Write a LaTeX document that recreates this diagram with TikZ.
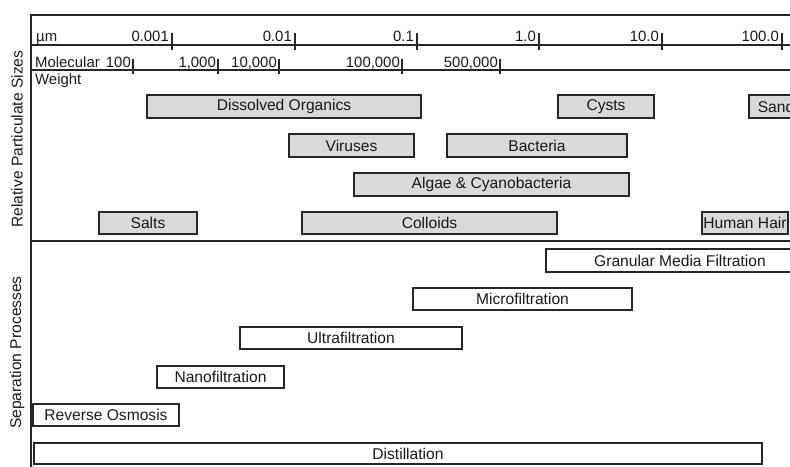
\documentclass[tikz,border=0pt]{standalone}
\usepackage{fontspec}
\setmainfont{Liberation Sans}
\begin{document}
\begin{tikzpicture}[x=1pt,y=-1pt,
  frame/.style={line width=2.1pt,black!85},
  tick/.style={line width=1.8pt,black!85},
  lbl/.style={font=\fontsize{15.6}{18}\selectfont,inner sep=0pt,text=black!90},
  axl/.style={lbl,font=\fontsize{14.9}{18}\selectfont},
  pbox/.style={draw=black!85,line width=2.2pt,fill=black!15,inner sep=0pt,minimum height=22pt,font=\fontsize{15.6}{18}\selectfont,text=black!90},
  sbox/.style={pbox,fill=white}]
\clip (0,0) rectangle (790,466);
\fill[white] (0,0) rectangle (790,466);
% frame
\draw[frame] (790,15) -- (31,15) -- (31,470);
\draw[frame] (31,45) -- (790,45);
\draw[frame] (31,70) -- (790,70);
\draw[frame] (31,241) -- (790,241);
% micrometre ticks
\foreach \x/\t in {172/0.001,295/0.01,417/0.1,539/1.0,662/10.0,782/100.0}{
  \draw[tick] (\x,33) -- (\x,50);
  \node[axl,anchor=base east] at (\x-3,41) {\t};
}
\node[axl,anchor=base west] (um) at (36,41) {µm};
% molecular weight ticks
\foreach \x/\t in {133/100,218/{1,000},279/{10,000},402/{100,000},500/{500,000}}{
  \draw[tick] (\x,59) -- (\x,74);
  \node[axl,anchor=base east] at (\x-2,67) {\t};
}
\node[axl,anchor=base west] (mw1) at (35,67) {Molecular};
\node[axl,anchor=base west] (mw2) at (35,84) {Weight};
% side titles
\node[lbl,rotate=90] (rps) at (17,139) {Relative Particulate Sizes};
\node[lbl,rotate=90] (sp) at (17,352.5) {Separation Processes};
% particulate sizes
\node[pbox,minimum width=274pt,minimum height=23pt] (dorg) at (284,106.5) {Dissolved Organics};
\node[pbox,minimum width=96pt,minimum height=23pt] (cysts) at (606,106.5) {Cysts};
\node[pbox,minimum width=54pt,minimum height=23pt] (sand) at (776,106.5) {Sand};
\node[pbox,minimum width=125pt,minimum height=23pt] (vir) at (351.5,145.5) {Viruses};
\node[pbox,minimum width=180pt,minimum height=23pt] (bact) at (537,145.5) {Bacteria};
\node[pbox,minimum width=275pt,minimum height=23pt] (algae) at (491.5,184.5) {Algae \& Cyanobacteria};
\node[pbox,minimum width=98pt] (salts) at (148,223) {Salts};
\node[pbox,minimum width=255pt] (coll) at (429.5,223) {Colloids};
\node[pbox,minimum width=86pt] (hair) at (745,223) {Human Hair};
% separation processes
\node[sbox,minimum width=268pt,minimum height=23pt] (gmf) at (680,260.5) {Granular Media Filtration};
\node[sbox,minimum width=219pt] (mf) at (522.5,299) {Microfiltration};
\node[sbox,minimum width=222pt] (uf) at (351,338) {Ultrafiltration};
\node[sbox,minimum width=127pt] (nf) at (220.5,377) {Nanofiltration};
\node[sbox,minimum width=146pt] (ro) at (106,415) {Reverse Osmosis};
\node[sbox,minimum width=728pt,minimum height=21pt,label={[lbl,xshift=10pt]center:Distillation}] (dist) at (398,453.5) {};
\end{tikzpicture}
\end{document}
